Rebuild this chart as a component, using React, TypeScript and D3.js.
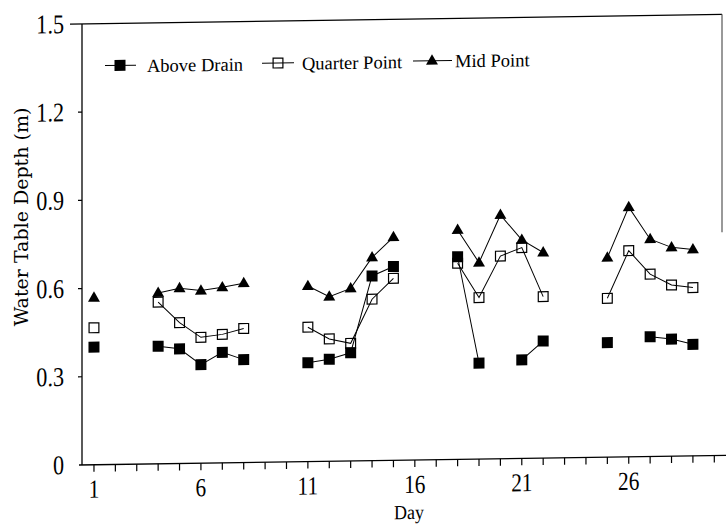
import React from "react";
import * as d3 from "d3";

const days: number[] = Array.from({ length: 29 }, (_, i) => i + 1);

const aboveDrain: (number | null)[] = [
  0.40, null, null, 0.40, 0.39, 0.335, 0.376, 0.35, null, null,
  0.336, 0.347, 0.368, 0.628, 0.659, null, null, 0.689, 0.326, null,
  0.335, 0.398, null, null, 0.389, null, 0.407, 0.398, 0.379,
];
const quarterPoint: (number | null)[] = [
  0.466, null, null, 0.55, 0.479, 0.428, 0.437, 0.456, null, null,
  0.457, 0.416, 0.40, 0.549, 0.619, null, null, 0.667, 0.549, 0.689,
  0.717, 0.549, null, null, 0.54, 0.701, 0.62, 0.582, 0.572,
];
const midPoint: (number | null)[] = [
  0.568, null, null, 0.581, 0.596, 0.587, 0.597, 0.61, null, null,
  0.597, 0.56, 0.587, 0.691, 0.759, null, null, 0.78, 0.668, 0.829,
  0.743, 0.699, null, null, 0.678, 0.849, 0.739, 0.71, 0.702,
];

const seriesNames = ["Above Drain", "Quarter Point", "Mid Point"];
const yTicks = [0, 0.3, 0.6, 0.9, 1.2, 1.5];
const xTickDays = Array.from({ length: 30 }, (_, i) => i + 1);
const xLabelDays = [1, 6, 11, 16, 21, 26];

const W = 726;
const H = 527;

const x = d3.scaleLinear().domain([0.3, 30.5]).range([79, 725]);
const y = d3.scaleLinear().domain([0, 1.5]).range([465, 24]);

const tickFont = "'Liberation Serif', 'Times New Roman', serif";

function Marker({ kind, cx, cy }: { kind: number; cx: number; cy: number }) {
  const s = 11;
  if (kind === 0)
    return <rect x={cx - s / 2} y={cy - s / 2} width={s} height={s} fill="#000" />;
  if (kind === 1)
    return (
      <rect x={cx - s / 2 + 0.6} y={cy - s / 2 + 0.6} width={s - 1.2} height={s - 1.2}
        fill="none" stroke="#000" strokeWidth={1.2} />
    );
  const p = d3.symbol().type(d3.symbolTriangle).size(62)();
  return <path d={p || ""} transform={`translate(${cx},${cy + 0.5})`} fill="#000" />;
}

export default function App() {
  const series = [aboveDrain, quarterPoint, midPoint];
  const line = d3
    .line<number | null>()
    .defined((d) => d !== null)
    .x((_, i) => x(days[i]))
    .y((d) => y(d as number));

  const slope = 0.86;
  const legendY = 66;
  const legendItems = [
    { lx: 105, rx: 136, mx: 120, tx: 147 },
    { lx: 262, rx: 294, mx: 278, tx: 302 },
    { lx: 413, rx: 452, mx: 432, tx: 455 },
  ];

  return (
    <svg width={W} height={H} style={{ position: "absolute", left: 0, top: 0, background: "#fff" }}>
      <rect x={0} y={0} width={W} height={H} fill="#fff" />
      <g transform={`translate(79,0) skewY(${-slope}) translate(-79,0)`}>
        {/* frame */}
        <line x1={70} x2={722} y1={y(1.5)} y2={y(1.5)} stroke="#000" strokeWidth={1.3} />
        <line x1={722} x2={722} y1={y(1.5)} y2={242} stroke="#555" strokeWidth={1.2} />
        <line x1={82} x2={82} y1={y(1.5)} y2={y(0)} stroke="#000" strokeWidth={1.3} />
        <line x1={79} x2={726} y1={y(0)} y2={y(0)} stroke="#000" strokeWidth={1.3} />
        {/* y ticks */}
        {yTicks.map((t) => (
          <g key={t}>
            {t > 0 && t < 1.5 && (
              <line x1={78} x2={82} y1={y(t)} y2={y(t)} stroke="#000" strokeWidth={1.2} />
            )}
            <g transform={`translate(64,${y(t)}) scale(0.82,1)`}>
              <text x={0} y={0} dy="0.33em" textAnchor="end" fontFamily={tickFont} fontSize={27} fill="#000">
                {t === 0 ? "0" : t.toFixed(1)}
              </text>
            </g>
          </g>
        ))}
        {/* x ticks */}
        {xTickDays.map((d) => (
          <line key={d} x1={x(d)} x2={x(d)} y1={y(0)} y2={y(0) + 7} stroke="#000" strokeWidth={1.2} />
        ))}
        {xLabelDays.map((d) => (
          <g key={d} transform={`translate(${x(d)},498) scale(0.82,1)`}>
            <text x={0} y={0} textAnchor="middle" fontFamily={tickFont} fontSize={26} fill="#000">
              {d}
            </text>
          </g>
        ))}
        <g transform={`translate(409,524) scale(0.9,1)`}>
          <text x={0} y={0} textAnchor="middle" fontFamily={tickFont} fontSize={20} fill="#000">
            Day
          </text>
        </g>
        {/* series lines */}
        {series.map((s, k) => (
          <path key={k} d={line(s) || ""} fill="none" stroke="#000" strokeWidth={1} />
        ))}
        {/* markers */}
        {series.map((s, k) =>
          s.map((v, i) =>
            v === null ? null : <Marker key={`${k}-${i}`} kind={k} cx={x(days[i])} cy={y(v)} />
          )
        )}
        {/* legend */}
        {legendItems.map((it, k) => (
          <g key={k}>
            <line x1={it.lx} x2={it.rx} y1={legendY} y2={legendY} stroke="#000" strokeWidth={1} />
            <Marker kind={k} cx={it.mx} cy={legendY} />
            <text x={it.tx} y={legendY + 7} fontFamily={tickFont} fontSize={18.5} fill="#000">
              {seriesNames[k]}
            </text>
          </g>
        ))}
      </g>
      <text
        transform="translate(28,217) rotate(-90)"
        textAnchor="middle"
        fontFamily="'DejaVu Serif', serif"
        fontSize={19}
        fill="#000"
      >
        Water Table Depth (m)
      </text>
    </svg>
  );
}
